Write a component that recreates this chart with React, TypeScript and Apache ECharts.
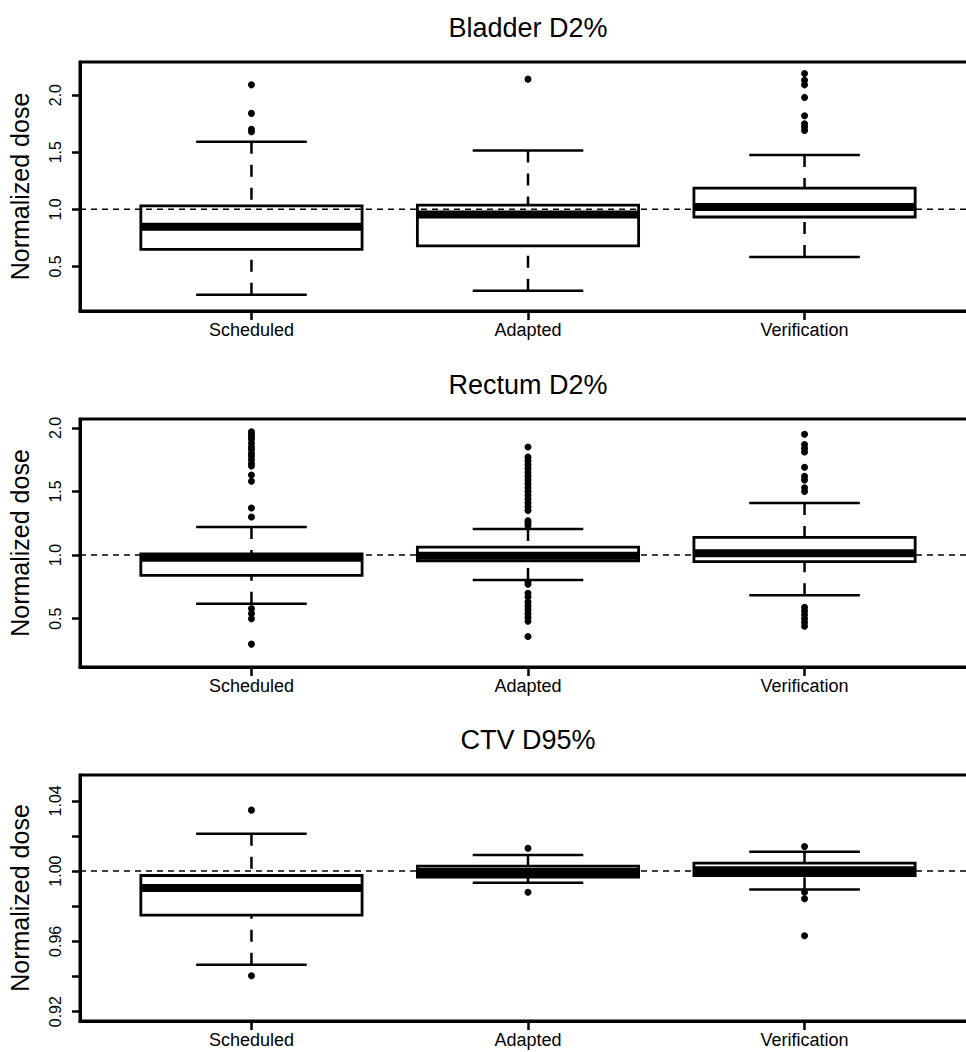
import React, { useEffect, useRef } from "react";
import * as echarts from "echarts";

const categories = ["Scheduled", "Adapted", "Verification"];
const panelTitles = ["Bladder D2%", "Rectum D2%", "CTV D95%"];

// [lower whisker, Q1, median, Q3, upper whisker]
const bladderStats = [
  [0.253, 0.65, 0.848, 1.03, 1.591],
  [0.288, 0.68, 0.955, 1.037, 1.516],
  [0.583, 0.933, 1.02, 1.186, 1.475],
];
const bladderOutliers = [
  [2.09, 1.84, 1.7, 1.68],
  [2.14],
  [2.19, 2.13, 2.09, 1.98, 1.82, 1.75, 1.72, 1.69],
];

const rectumStats = [
  [0.617, 0.84, 0.98, 1.01, 1.22],
  [0.805, 0.955, 0.995, 1.063, 1.205],
  [0.685, 0.948, 1.015, 1.14, 1.41],
];
const rectumOutliers = [
  [1.97, 1.95, 1.93, 1.91, 1.88, 1.85, 1.83, 1.8, 1.78, 1.75, 1.72, 1.7, 1.63, 1.58, 1.37, 1.3, 0.58, 0.54, 0.5, 0.3],
  [1.85, 1.77, 1.74, 1.71, 1.68, 1.65, 1.62, 1.59, 1.56, 1.53, 1.5, 1.47, 1.44, 1.41, 1.38, 1.35, 1.27, 1.25, 1.23,
   0.79, 0.77, 0.7, 0.67, 0.63, 0.6, 0.57, 0.54, 0.51, 0.48, 0.36],
  [1.95, 1.87, 1.84, 1.81, 1.69, 1.62, 1.59, 1.53, 1.5, 0.59, 0.56, 0.53, 0.5, 0.47, 0.44],
];

const ctvStats = [
  [0.9467, 0.975, 0.9904, 0.9975, 1.0213],
  [0.9934, 0.9966, 0.9995, 1.0028, 1.0092],
  [0.9896, 0.9975, 1.0005, 1.0045, 1.011],
];
const ctvOutliers = [
  [1.0347, 0.9405],
  [1.013, 0.988],
  [1.014, 0.988, 0.9843, 0.9632],
];

const yRanges = [
  [0.11, 2.29],
  [0.12, 2.07],
  [0.9147, 1.0547],
];
const yTickValues = [
  [0.5, 1.0, 1.5, 2.0],
  [0.5, 1.0, 1.5, 2.0],
  [0.92, 0.94, 0.96, 0.98, 1.0, 1.02, 1.04],
];
const yLabelValues = [
  [0.5, 1.0, 1.5, 2.0],
  [0.5, 1.0, 1.5, 2.0],
  [0.92, 0.96, 1.0, 1.04],
];
const yLabelDecimals = [1, 1, 2];
const xRange = [0.38, 3.62];
const referenceDose = 1.0;

const statsList = [bladderStats, rectumStats, ctvStats];
const outlierList = [bladderOutliers, rectumOutliers, ctvOutliers];

const FONT = "'Liberation Sans', Arial, sans-serif";
const gridTops = [62, 419, 775];
const gridHeights = [249, 248, 246];
const titleY = [28, 385, 740];

function renderBox(params: any, api: any) {
  const x = api.value(0);
  const lo = api.coord([x, api.value(1)]);
  const q1 = api.coord([x, api.value(2)]);
  const med = api.coord([x, api.value(3)]);
  const q3 = api.coord([x, api.value(4)]);
  const hi = api.coord([x, api.value(5)]);
  const boxW = api.size([0.8, 0])[0];
  const capW = api.size([0.4, 0])[0];
  const cx = lo[0];
  const black = "#000";
  const dash = { stroke: black, lineWidth: 2.5, lineDash: [12, 11], fill: null };
  const solid = { stroke: black, lineWidth: 2.5, fill: null };
  return {
    type: "group",
    children: [
      { type: "line", shape: { x1: cx, y1: hi[1], x2: cx, y2: q3[1] }, style: dash },
      { type: "line", shape: { x1: cx, y1: lo[1], x2: cx, y2: q1[1] }, style: dash },
      { type: "line", shape: { x1: cx - capW / 2, y1: hi[1], x2: cx + capW / 2, y2: hi[1] }, style: solid },
      { type: "line", shape: { x1: cx - capW / 2, y1: lo[1], x2: cx + capW / 2, y2: lo[1] }, style: solid },
      {
        type: "rect",
        shape: { x: cx - boxW / 2, y: q3[1], width: boxW, height: q1[1] - q3[1] },
        style: { fill: "#fff", stroke: black, lineWidth: 2.8 },
      },
      {
        type: "line",
        shape: { x1: cx - boxW / 2, y1: med[1], x2: cx + boxW / 2, y2: med[1] },
        style: { stroke: black, lineWidth: 8, lineCap: "butt" },
      },
    ],
  };
}

export default function App() {
  const ref = useRef<HTMLDivElement>(null);
  useEffect(() => {
    if (!ref.current) return;
    const chart = echarts.init(ref.current, undefined, { renderer: "svg" });

    const grids: any[] = [];
    const xAxes: any[] = [];
    const yAxes: any[] = [];
    const series: any[] = [];
    const graphics: any[] = [];

    for (let p = 0; p < 3; p++) {
      grids.push({
        left: 80,
        right: 24,
        top: gridTops[p],
        height: gridHeights[p],
        show: true,
        borderColor: "#000",
        borderWidth: 3,
        backgroundColor: "transparent",
        containLabel: false,
        outerBoundsMode: "none",
      });
      xAxes.push({
        type: "value",
        gridIndex: p,
        min: xRange[0],
        max: xRange[1],
        axisLine: { show: true, lineStyle: { color: "#000", width: 3 } },
        axisTick: { show: true, length: 9, lineStyle: { color: "#000", width: 2.5 }, customValues: [1, 2, 3] },
        axisLabel: {
          customValues: [1, 2, 3],
          formatter: (v: number) => categories[Math.round(v) - 1],
          color: "#000",
          fontFamily: FONT,
          fontSize: 18,
          margin: 10,
        },
        splitLine: { show: false },
      });
      yAxes.push({
        type: "value",
        gridIndex: p,
        min: yRanges[p][0],
        max: yRanges[p][1],
        name: "Normalized dose",
        nameLocation: "middle",
        nameRotate: 90,
        nameGap: 48,
        nameTextStyle: { color: "#000", fontFamily: FONT, fontSize: 25 },
        axisLine: { show: true, lineStyle: { color: "#000", width: 3 } },
        axisTick: { show: true, length: 8, lineStyle: { color: "#000", width: 2.5 }, customValues: yTickValues[p] },
        axisLabel: {
          customValues: yLabelValues[p],
          formatter: (v: number) => v.toFixed(yLabelDecimals[p]),
          rotate: 90,
          color: "#000",
          fontFamily: FONT,
          fontSize: 16,
          margin: 17,
        },
        splitLine: { show: false },
      });

      const boxData = statsList[p].map((s, i) => [i + 1, ...s]);
      series.push({
        type: "custom",
        xAxisIndex: p,
        yAxisIndex: p,
        renderItem: renderBox,
        data: boxData,
        encode: { x: 0, y: [1, 2, 3, 4, 5] },
        z: 2,
        silent: true,
      });
      const outData: number[][] = [];
      outlierList[p].forEach((arr, i) => arr.forEach((v) => outData.push([i + 1, v])));
      series.push({
        type: "scatter",
        xAxisIndex: p,
        yAxisIndex: p,
        data: outData,
        symbol: "circle",
        symbolSize: 7,
        itemStyle: { color: "#000", opacity: 1 },
        z: 3,
        silent: true,
      });
      series.push({
        type: "line",
        xAxisIndex: p,
        yAxisIndex: p,
        data: [
          [xRange[0], referenceDose],
          [xRange[1], referenceDose],
        ],
        symbol: "none",
        lineStyle: { color: "#000", width: 1.5, type: [6, 5] },
        z: 5,
        silent: true,
      });

      graphics.push({
        type: "text",
        x: 528,
        y: titleY[p],
        style: {
          text: panelTitles[p],
          fill: "#000",
          font: `27px ${FONT}`,
          textAlign: "center",
          textVerticalAlign: "middle",
        },
      });
    }

    chart.setOption({
      animation: false,
      backgroundColor: "#fff",
      grid: grids,
      xAxis: xAxes,
      yAxis: yAxes,
      series,
      graphic: graphics,
    });
    return () => chart.dispose();
  }, []);

  return (
    <div
      ref={ref}
      style={{ position: "fixed", left: 0, top: 0, width: 1000, height: 1052, background: "#fff" }}
    />
  );
}
